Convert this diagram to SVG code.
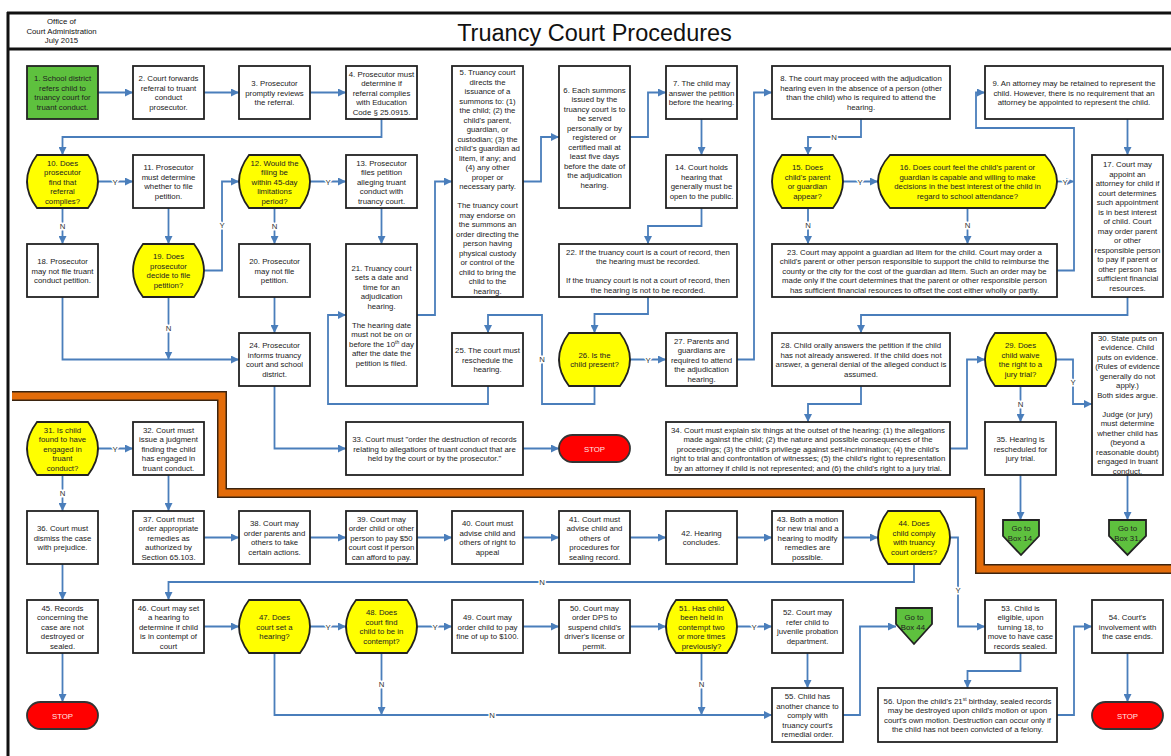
<svg xmlns="http://www.w3.org/2000/svg" width="1171" height="756" viewBox="0 0 1171 756">
<style>
.box{fill:#fff;stroke:#222;stroke-width:1.8}
.dec{fill:#ffff00;stroke:#222;stroke-width:1.8}
.grn{fill:#5ec13e;stroke:#222;stroke-width:1.8}
.stop{fill:#ff0000;stroke:#333;stroke-width:1.8}
.t{font-family:"Liberation Sans",Arial,sans-serif;font-size:7.8px;fill:#222;text-anchor:middle}
.st{fill:#ffe4e4}
.c{fill:none;stroke:#4a7ebb;stroke-width:1.8;marker-end:url(#a)}
.lbl{font-family:"Liberation Sans",Arial,sans-serif;font-size:7.8px;fill:#333;text-anchor:middle;stroke:#fff;stroke-width:3;paint-order:stroke}
.frame{stroke:#111;stroke-width:3;fill:none}
</style>
<defs>
<marker id="a" viewBox="0 0 10 10" refX="10" refY="5" markerWidth="8" markerHeight="8" markerUnits="userSpaceOnUse" orient="auto"><path d="M0,0 L10,5 L0,10 z" fill="#4a7ebb"/></marker>
</defs>
<rect width="1171" height="756" fill="#fff"/>
<g id="frame">
<path class="frame" d="M7,13 H1171 M8,12 V756 M7,49 H1171"/>
<text class="t" x="61.5" y="24" style="fill:#111"><tspan x="61.5">Office of</tspan><tspan x="61.5" dy="9.5">Court Administration</tspan><tspan x="61.5" dy="9.5">July 2015</tspan></text>
<text x="594.5" y="41" style="font-family:'Liberation Sans',Arial,sans-serif;font-size:23.5px;fill:#111;text-anchor:middle">Truancy Court Procedures</text>
</g>
<g id="band">
<path d="M12,396 H222 V493 H980 V569 H1171" fill="none" stroke="#3b2410" stroke-width="10"/>
<path d="M12,396 H222 V493 H980 V569 H1171" fill="none" stroke="#e36c0a" stroke-width="7"/>
</g>
<g id="connectors">
<path class="c" d="M98,92.5 H133"/>
<path class="c" d="M204,92.5 H239"/>
<path class="c" d="M310,92.5 H346"/>
<path class="c" d="M381.5,119 V137 H62.5 V155"/>
<path class="c" d="M98,181.5 H133"/>
<path class="c" d="M62.5,208 V244"/>
<path class="c" d="M168.5,208 V244"/>
<path class="c" d="M204,270.5 H222 V181.5 H239"/>
<path class="c" d="M310,181.5 H346"/>
<path class="c" d="M274.5,208 V244"/>
<path class="c" d="M381.5,208 V244"/>
<path class="c" d="M62.5,297 V359.5 H239"/>
<path class="c" d="M168.5,297 V359.5"/>
<path class="c" d="M274.5,297 V333"/>
<path class="c" d="M417,315 H435 V181.5 H452"/>
<path class="c" d="M274.5,386 V448.5 H346"/>
<path class="c" d="M488,386 V404 H328 V315 H346"/>
<path class="c" d="M594.5,386 V404 H542 V315 H488 V333"/>
<path class="c" d="M630,359.5 H666"/>
<path class="c" d="M737,359.5 H754 V92.5 H772"/>
<path class="c" d="M523,181.5 H541 V137 H559"/>
<path class="c" d="M630,137 H648 V92.5 H666"/>
<path class="c" d="M701.5,119 V155"/>
<path class="c" d="M701.5,208 V226 H648 V244"/>
<path class="c" d="M648,297 V314 H594.5 V333"/>
<path class="c" d="M861,119 V137 H808 V155"/>
<path class="c" d="M843,181.5 H878"/>
<path class="c" d="M808,208 V244"/>
<path class="c" d="M967.5,208 V244"/>
<path class="c" d="M1057,270.5 H1074 V128 H976 V92.5 H985"/>
<path class="c" d="M1057,181.5 H1074"/>
<path class="c" d="M1127.5,119 V155"/>
<path class="c" d="M1127.5,297 V315 H861 V333"/>
<path class="c" d="M861,386 V404 H808 V422"/>
<path class="c" d="M950,448.5 H967 V359.5 H985"/>
<path class="c" d="M1056,359.5 H1073 V404 H1092"/>
<path class="c" d="M1020.5,386 V422"/>
<path class="c" d="M1020.5,475 V520"/>
<path class="c" d="M1127.5,475 V520"/>
<path class="c" d="M523,448.5 H559"/>
<path class="c" d="M98,448.5 H133"/>
<path class="c" d="M62.5,475 V511"/>
<path class="c" d="M168.5,475 V511"/>
<path class="c" d="M62.5,564 V600"/>
<path class="c" d="M62.5,653 V702"/>
<path class="c" d="M204,537.5 H239"/>
<path class="c" d="M310,537.5 H346"/>
<path class="c" d="M417,537.5 H452"/>
<path class="c" d="M523,537.5 H559"/>
<path class="c" d="M630,537.5 H666"/>
<path class="c" d="M737,537.5 H772"/>
<path class="c" d="M843,537.5 H878"/>
<path class="c" d="M914,564 V582 H168.5 V600"/>
<path class="c" d="M950,537.5 H958 V626.5 H985"/>
<path class="c" d="M204,626.5 H239"/>
<path class="c" d="M310,626.5 H346"/>
<path class="c" d="M417,626.5 H452"/>
<path class="c" d="M523,626.5 H559"/>
<path class="c" d="M630,626.5 H666"/>
<path class="c" d="M737,626.5 H772"/>
<path class="c" d="M807.5,653 V688"/>
<path class="c" d="M274.5,653 V715 H772"/>
<path class="c" d="M381.5,653 V715"/>
<path class="c" d="M701.5,653 V715"/>
<path class="c" d="M843,715 H860 V626.5 H896"/>
<path class="c" d="M1020.5,653 V671 H967.5 V688"/>
<path class="c" d="M1057,715 H1074 V626.5 H1092"/>
<path class="c" d="M1127.5,653 V702"/>
<text class="lbl" x="115" y="184.5">Y</text>
<text class="lbl" x="62.5" y="229">N</text>
<text class="lbl" x="222" y="228">Y</text>
<text class="lbl" x="328" y="184.5">Y</text>
<text class="lbl" x="274.5" y="229">N</text>
<text class="lbl" x="168.5" y="331">N</text>
<text class="lbl" x="542" y="362">N</text>
<text class="lbl" x="648" y="362.5">Y</text>
<text class="lbl" x="834" y="140">N</text>
<text class="lbl" x="860" y="184.5">Y</text>
<text class="lbl" x="808" y="228">N</text>
<text class="lbl" x="967.5" y="228">N</text>
<text class="lbl" x="1065" y="184.5">Y</text>
<text class="lbl" x="1073" y="385">Y</text>
<text class="lbl" x="1020.5" y="407">N</text>
<text class="lbl" x="115" y="451.5">Y</text>
<text class="lbl" x="62.5" y="496">N</text>
<text class="lbl" x="542" y="585">N</text>
<text class="lbl" x="958" y="593">Y</text>
<text class="lbl" x="328" y="629.5">Y</text>
<text class="lbl" x="435" y="629.5">Y</text>
<text class="lbl" x="754" y="629.5">Y</text>
<text class="lbl" x="492" y="718">N</text>
<text class="lbl" x="381.5" y="687">N</text>
<text class="lbl" x="701.5" y="687">N</text>
</g>
<g id="n1"><rect class="grn" x="27" y="66" width="71" height="53"/><text class="t" x="62.5" y="81.25"><tspan x="62.5">1. School district</tspan><tspan x="62.5" dy="9.5">refers child to</tspan><tspan x="62.5" dy="9.5">truancy court for</tspan><tspan x="62.5" dy="9.5">truant conduct.</tspan></text></g>
<g id="n2"><rect class="box" x="133" y="66" width="71" height="53"/><text class="t" x="168.5" y="81.25"><tspan x="168.5">2. Court forwards</tspan><tspan x="168.5" dy="9.5">referral to truant</tspan><tspan x="168.5" dy="9.5">conduct</tspan><tspan x="168.5" dy="9.5">prosecutor.</tspan></text></g>
<g id="n3"><rect class="box" x="239" y="66" width="71" height="53"/><text class="t" x="274.5" y="86"><tspan x="274.5">3. Prosecutor</tspan><tspan x="274.5" dy="9.5">promptly reviews</tspan><tspan x="274.5" dy="9.5">the referral.</tspan></text></g>
<g id="n4"><rect class="box" x="346" y="66" width="71" height="53"/><text class="t" x="381.5" y="76.5"><tspan x="381.5">4. Prosecutor must</tspan><tspan x="381.5" dy="9.5">determine if</tspan><tspan x="381.5" dy="9.5">referral complies</tspan><tspan x="381.5" dy="9.5">with Education</tspan><tspan x="381.5" dy="9.5">Code § 25.0915.</tspan></text></g>
<g id="n5"><rect class="box" x="452" y="66" width="71" height="231"/><text class="t" x="487.5" y="75"><tspan x="487.5">5. Truancy court</tspan><tspan x="487.5" dy="9.52">directs the</tspan><tspan x="487.5" dy="9.52">issuance of a</tspan><tspan x="487.5" dy="9.52">summons to: (1)</tspan><tspan x="487.5" dy="9.52">the child; (2) the</tspan><tspan x="487.5" dy="9.52">child's parent,</tspan><tspan x="487.5" dy="9.52">guardian, or</tspan><tspan x="487.5" dy="9.52">custodian; (3) the</tspan><tspan x="487.5" dy="9.52">child's guardian ad</tspan><tspan x="487.5" dy="9.52">litem, if any; and</tspan><tspan x="487.5" dy="9.52">(4) any other</tspan><tspan x="487.5" dy="9.52">proper or</tspan><tspan x="487.5" dy="9.52">necessary party.</tspan><tspan x="487.5" dy="19.04">The truancy court</tspan><tspan x="487.5" dy="9.52">may endorse on</tspan><tspan x="487.5" dy="9.52">the summons an</tspan><tspan x="487.5" dy="9.52">order directing the</tspan><tspan x="487.5" dy="9.52">person having</tspan><tspan x="487.5" dy="9.52">physical custody</tspan><tspan x="487.5" dy="9.52">or control of the</tspan><tspan x="487.5" dy="9.52">child to bring the</tspan><tspan x="487.5" dy="9.52">child to the</tspan><tspan x="487.5" dy="9.52">hearing.</tspan></text></g>
<g id="n6"><rect class="box" x="559" y="66" width="71" height="142"/><text class="t" x="594.5" y="92.5"><tspan x="594.5">6. Each summons</tspan><tspan x="594.5" dy="9.5">issued by the</tspan><tspan x="594.5" dy="9.5">truancy court is to</tspan><tspan x="594.5" dy="9.5">be served</tspan><tspan x="594.5" dy="9.5">personally or by</tspan><tspan x="594.5" dy="9.5">registered or</tspan><tspan x="594.5" dy="9.5">certified mail at</tspan><tspan x="594.5" dy="9.5">least five days</tspan><tspan x="594.5" dy="9.5">before the date of</tspan><tspan x="594.5" dy="9.5">the adjudication</tspan><tspan x="594.5" dy="9.5">hearing.</tspan></text></g>
<g id="n7"><rect class="box" x="666" y="66" width="71" height="53"/><text class="t" x="701.5" y="86"><tspan x="701.5">7. The child may</tspan><tspan x="701.5" dy="9.5">answer the petition</tspan><tspan x="701.5" dy="9.5">before the hearing.</tspan></text></g>
<g id="n8"><rect class="box" x="772" y="66" width="178" height="53"/><text class="t" x="861" y="81.25"><tspan x="861">8. The court may proceed with the adjudication</tspan><tspan x="861" dy="9.5">hearing even in the absence of a person (other</tspan><tspan x="861" dy="9.5">than the child) who is required to attend the</tspan><tspan x="861" dy="9.5">hearing.</tspan></text></g>
<g id="n9"><rect class="box" x="985" y="66" width="178" height="53"/><text class="t" x="1074" y="86"><tspan x="1074">9. An attorney may be retained to represent the</tspan><tspan x="1074" dy="9.5">child.  However, there is no requirement that an</tspan><tspan x="1074" dy="9.5">attorney be appointed to represent the child.</tspan></text></g>
<g id="n10"><path class="dec" d="M37,155 H88 Q108,181.5 88,208 H37 Q17,181.5 37,155 Z"/><text class="t" x="62.5" y="165.5"><tspan x="62.5">10. Does</tspan><tspan x="62.5" dy="9.5">prosecutor</tspan><tspan x="62.5" dy="9.5">find that</tspan><tspan x="62.5" dy="9.5">referral</tspan><tspan x="62.5" dy="9.5">complies?</tspan></text></g>
<g id="n11"><rect class="box" x="133" y="155" width="71" height="53"/><text class="t" x="168.5" y="170.25"><tspan x="168.5">11. Prosecutor</tspan><tspan x="168.5" dy="9.5">must determine</tspan><tspan x="168.5" dy="9.5">whether to file</tspan><tspan x="168.5" dy="9.5">petition.</tspan></text></g>
<g id="n12"><path class="dec" d="M249,155 H300 Q320,181.5 300,208 H249 Q229,181.5 249,155 Z"/><text class="t" x="274.5" y="165.5"><tspan x="274.5">12. Would the</tspan><tspan x="274.5" dy="9.5">filing be</tspan><tspan x="274.5" dy="9.5">within 45-day</tspan><tspan x="274.5" dy="9.5">limitations</tspan><tspan x="274.5" dy="9.5">period?</tspan></text></g>
<g id="n13"><rect class="box" x="346" y="155" width="71" height="53"/><text class="t" x="381.5" y="165.5"><tspan x="381.5">13. Prosecutor</tspan><tspan x="381.5" dy="9.5">files petition</tspan><tspan x="381.5" dy="9.5">alleging truant</tspan><tspan x="381.5" dy="9.5">conduct with</tspan><tspan x="381.5" dy="9.5">truancy court.</tspan></text></g>
<g id="n14"><rect class="box" x="666" y="155" width="71" height="53"/><text class="t" x="701.5" y="170.25"><tspan x="701.5">14. Court holds</tspan><tspan x="701.5" dy="9.5">hearing that</tspan><tspan x="701.5" dy="9.5">generally must be</tspan><tspan x="701.5" dy="9.5">open to the public.</tspan></text></g>
<g id="n15"><path class="dec" d="M782,155 H833 Q853,181.5 833,208 H782 Q762,181.5 782,155 Z"/><text class="t" x="807.5" y="170.25"><tspan x="807.5">15.  Does</tspan><tspan x="807.5" dy="9.5">child's parent</tspan><tspan x="807.5" dy="9.5">or guardian</tspan><tspan x="807.5" dy="9.5">appear?</tspan></text></g>
<g id="n16"><path class="dec" d="M890,155 H1045 Q1069,181.5 1045,208 H890 Q866,181.5 890,155 Z"/><text class="t" x="967.5" y="170.25"><tspan x="967.5">16. Does court feel the child's parent or</tspan><tspan x="967.5" dy="9.5">guardian is capable and willing to make</tspan><tspan x="967.5" dy="9.5">decisions in the best interest of the child in</tspan><tspan x="967.5" dy="9.5">regard to school attendance?</tspan></text></g>
<g id="n17"><rect class="box" x="1092" y="155" width="71" height="142"/><text class="t" x="1127.5" y="167.25"><tspan x="1127.5">17. Court may</tspan><tspan x="1127.5" dy="9.5">appoint an</tspan><tspan x="1127.5" dy="9.5">attorney for child if</tspan><tspan x="1127.5" dy="9.5">court determines</tspan><tspan x="1127.5" dy="9.5">such appointment</tspan><tspan x="1127.5" dy="9.5">is in best interest</tspan><tspan x="1127.5" dy="9.5">of child.  Court</tspan><tspan x="1127.5" dy="9.5">may order parent</tspan><tspan x="1127.5" dy="9.5">or other</tspan><tspan x="1127.5" dy="9.5">responsible person</tspan><tspan x="1127.5" dy="9.5">to pay if parent or</tspan><tspan x="1127.5" dy="9.5">other person has</tspan><tspan x="1127.5" dy="9.5">sufficient financial</tspan><tspan x="1127.5" dy="9.5">resources.</tspan></text></g>
<g id="n18"><rect class="box" x="27" y="244" width="71" height="53"/><text class="t" x="62.5" y="264"><tspan x="62.5">18. Prosecutor</tspan><tspan x="62.5" dy="9.5">may not file truant</tspan><tspan x="62.5" dy="9.5">conduct petition.</tspan></text></g>
<g id="n19"><path class="dec" d="M143,244 H194 Q214,270.5 194,297 H143 Q123,270.5 143,244 Z"/><text class="t" x="168.5" y="259.25"><tspan x="168.5">19. Does</tspan><tspan x="168.5" dy="9.5">prosecutor</tspan><tspan x="168.5" dy="9.5">decide to file</tspan><tspan x="168.5" dy="9.5">petition?</tspan></text></g>
<g id="n20"><rect class="box" x="239" y="244" width="71" height="53"/><text class="t" x="274.5" y="264"><tspan x="274.5">20. Prosecutor</tspan><tspan x="274.5" dy="9.5">may not file</tspan><tspan x="274.5" dy="9.5">petition.</tspan></text></g>
<g id="n21"><rect class="box" x="346" y="244" width="71" height="142"/><text class="t" x="381.5" y="270.5"><tspan x="381.5">21. Truancy court</tspan><tspan x="381.5" dy="9.5">sets a date and</tspan><tspan x="381.5" dy="9.5">time for an</tspan><tspan x="381.5" dy="9.5">adjudication</tspan><tspan x="381.5" dy="9.5">hearing.</tspan><tspan x="381.5" dy="19">The hearing date</tspan><tspan x="381.5" dy="9.5">must not be on or</tspan><tspan x="381.5" dy="9.5">before the 10<tspan dy="-3" style="font-size:5px">th</tspan><tspan dy="3"> day</tspan></tspan><tspan x="381.5" dy="9.5">after the date the</tspan><tspan x="381.5" dy="9.5">petition is filed.</tspan></text></g>
<g id="n22"><rect class="box" x="559" y="244" width="178" height="53"/><text class="t" x="648" y="254.5"><tspan x="648">22. If the truancy court is a court of record, then</tspan><tspan x="648" dy="9.5">the hearing must be recorded.</tspan><tspan x="648" dy="19">If the truancy court is not a court of record, then</tspan><tspan x="648" dy="9.5">the hearing is not to be recorded.</tspan></text></g>
<g id="n23"><rect class="box" x="772" y="244" width="285" height="53"/><text class="t" x="914.5" y="254.5"><tspan x="914.5">23. Court may appoint a guardian ad litem for the child.  Court may order a</tspan><tspan x="914.5" dy="9.5">child's parent or other person responsible to support the child to reimburse the</tspan><tspan x="914.5" dy="9.5">county or the city for the cost of the guardian ad litem.  Such an order may be</tspan><tspan x="914.5" dy="9.5">made only if the court determines that the parent or other responsible person</tspan><tspan x="914.5" dy="9.5">has sufficient financial resources to offset the cost either wholly or partly.</tspan></text></g>
<g id="n24"><rect class="box" x="239" y="333" width="71" height="53"/><text class="t" x="274.5" y="348.25"><tspan x="274.5">24. Prosecutor</tspan><tspan x="274.5" dy="9.5">informs truancy</tspan><tspan x="274.5" dy="9.5">court and school</tspan><tspan x="274.5" dy="9.5">district.</tspan></text></g>
<g id="n25"><rect class="box" x="452" y="333" width="71" height="53"/><text class="t" x="487.5" y="353"><tspan x="487.5">25. The court must</tspan><tspan x="487.5" dy="9.5">reschedule the</tspan><tspan x="487.5" dy="9.5">hearing.</tspan></text></g>
<g id="n26"><path class="dec" d="M569,333 H620 Q640,359.5 620,386 H569 Q549,359.5 569,333 Z"/><text class="t" x="594.5" y="357.75"><tspan x="594.5">26. Is the</tspan><tspan x="594.5" dy="9.5">child present?</tspan></text></g>
<g id="n27"><rect class="box" x="666" y="333" width="71" height="53"/><text class="t" x="701.5" y="343.5"><tspan x="701.5">27. Parents and</tspan><tspan x="701.5" dy="9.5">guardians are</tspan><tspan x="701.5" dy="9.5">required to attend</tspan><tspan x="701.5" dy="9.5">the adjudication</tspan><tspan x="701.5" dy="9.5">hearing.</tspan></text></g>
<g id="n28"><rect class="box" x="772" y="333" width="178" height="53"/><text class="t" x="861" y="348.25"><tspan x="861">28. Child orally answers the petition if the child</tspan><tspan x="861" dy="9.5">has not already answered.  If the child does not</tspan><tspan x="861" dy="9.5">answer, a general denial of the alleged conduct is</tspan><tspan x="861" dy="9.5">assumed.</tspan></text></g>
<g id="n29"><path class="dec" d="M995,333 H1046 Q1066,359.5 1046,386 H995 Q975,359.5 995,333 Z"/><text class="t" x="1020.5" y="348.25"><tspan x="1020.5">29. Does</tspan><tspan x="1020.5" dy="9.5">child waive</tspan><tspan x="1020.5" dy="9.5">the right to a</tspan><tspan x="1020.5" dy="9.5">jury trial?</tspan></text></g>
<g id="n30"><rect class="box" x="1092" y="333" width="71" height="142"/><text class="t" x="1127.5" y="340.5"><tspan x="1127.5">30. State puts on</tspan><tspan x="1127.5" dy="9.5">evidence.  Child</tspan><tspan x="1127.5" dy="9.5">puts on evidence.</tspan><tspan x="1127.5" dy="9.5">(Rules of evidence</tspan><tspan x="1127.5" dy="9.5">generally do not</tspan><tspan x="1127.5" dy="9.5">apply.)</tspan><tspan x="1127.5" dy="9.5">Both sides argue.</tspan><tspan x="1127.5" dy="19">Judge (or jury)</tspan><tspan x="1127.5" dy="9.5">must determine</tspan><tspan x="1127.5" dy="9.5">whether child has</tspan><tspan x="1127.5" dy="9.5">(beyond a</tspan><tspan x="1127.5" dy="9.5">reasonable doubt)</tspan><tspan x="1127.5" dy="9.5">engaged in truant</tspan><tspan x="1127.5" dy="9.5">conduct.</tspan></text></g>
<g id="n31"><path class="dec" d="M37,422 H88 Q108,448.5 88,475 H37 Q17,448.5 37,422 Z"/><text class="t" x="62.5" y="432.5"><tspan x="62.5">31. Is child</tspan><tspan x="62.5" dy="9.5">found to have</tspan><tspan x="62.5" dy="9.5">engaged in</tspan><tspan x="62.5" dy="9.5">truant</tspan><tspan x="62.5" dy="9.5">conduct?</tspan></text></g>
<g id="n32"><rect class="box" x="133" y="422" width="71" height="53"/><text class="t" x="168.5" y="432.5"><tspan x="168.5">32. Court must</tspan><tspan x="168.5" dy="9.5">issue a judgment</tspan><tspan x="168.5" dy="9.5">finding the child</tspan><tspan x="168.5" dy="9.5">has engaged in</tspan><tspan x="168.5" dy="9.5">truant conduct.</tspan></text></g>
<g id="n33"><rect class="box" x="346" y="422" width="177" height="53"/><text class="t" x="434.5" y="442"><tspan x="434.5">33. Court must "order the destruction of  records</tspan><tspan x="434.5" dy="9.5">relating to allegations of truant conduct that are</tspan><tspan x="434.5" dy="9.5">held by the court or by the prosecutor."</tspan></text></g>
<g id="stop1"><rect class="stop" x="559" y="435" width="71" height="27" rx="13.5"/><text class="t st" x="594.5" y="451.5">STOP</text></g>
<g id="n34"><rect class="box" x="666" y="422" width="284" height="53"/><text class="t" x="808" y="432.5"><tspan x="808">34. Court must explain six things at the outset of the hearing: (1) the allegations</tspan><tspan x="808" dy="9.5">made against the child; (2) the nature and possible consequences of the</tspan><tspan x="808" dy="9.5">proceedings; (3) the child's privilege against self-incrimination; (4) the child's</tspan><tspan x="808" dy="9.5">right to trial and confrontation of witnesses; (5) the child's right to representation</tspan><tspan x="808" dy="9.5">by an attorney if child is not represented; and (6) the child's right to a jury trial.</tspan></text></g>
<g id="n35"><rect class="box" x="985" y="422" width="71" height="53"/><text class="t" x="1020.5" y="442"><tspan x="1020.5">35. Hearing is</tspan><tspan x="1020.5" dy="9.5">rescheduled for</tspan><tspan x="1020.5" dy="9.5">jury trial.</tspan></text></g>
<g id="goto14"><path class="grn" d="M1003,520 H1039 V536 L1021,555 L1003,536 Z"/><text class="t" x="1021" y="531"><tspan x="1021">Go to</tspan><tspan x="1021" dy="10">Box 14.</tspan></text></g>
<g id="goto31"><path class="grn" d="M1109,520 H1146 V536 L1127.5,555 L1109,536 Z"/><text class="t" x="1127.5" y="531"><tspan x="1127.5">Go to</tspan><tspan x="1127.5" dy="10">Box 31.</tspan></text></g>
<g id="n36"><rect class="box" x="27" y="511" width="71" height="53"/><text class="t" x="62.5" y="531"><tspan x="62.5">36. Court must</tspan><tspan x="62.5" dy="9.5">dismiss the case</tspan><tspan x="62.5" dy="9.5">with prejudice.</tspan></text></g>
<g id="n37"><rect class="box" x="133" y="511" width="71" height="53"/><text class="t" x="168.5" y="521.5"><tspan x="168.5">37. Court must</tspan><tspan x="168.5" dy="9.5">order appropriate</tspan><tspan x="168.5" dy="9.5">remedies as</tspan><tspan x="168.5" dy="9.5">authorized by</tspan><tspan x="168.5" dy="9.5">Section 65.103.</tspan></text></g>
<g id="n38"><rect class="box" x="239" y="511" width="71" height="53"/><text class="t" x="274.5" y="526.25"><tspan x="274.5">38. Court may</tspan><tspan x="274.5" dy="9.5">order parents and</tspan><tspan x="274.5" dy="9.5">others to take</tspan><tspan x="274.5" dy="9.5">certain actions.</tspan></text></g>
<g id="n39"><rect class="box" x="346" y="511" width="71" height="53"/><text class="t" x="381.5" y="521.5"><tspan x="381.5">39. Court may</tspan><tspan x="381.5" dy="9.5">order child or other</tspan><tspan x="381.5" dy="9.5">person to pay $50</tspan><tspan x="381.5" dy="9.5">court cost if person</tspan><tspan x="381.5" dy="9.5">can afford to pay.</tspan></text></g>
<g id="n40"><rect class="box" x="452" y="511" width="71" height="53"/><text class="t" x="487.5" y="526.25"><tspan x="487.5">40. Court must</tspan><tspan x="487.5" dy="9.5">advise child and</tspan><tspan x="487.5" dy="9.5">others of right to</tspan><tspan x="487.5" dy="9.5">appeal</tspan></text></g>
<g id="n41"><rect class="box" x="559" y="511" width="71" height="53"/><text class="t" x="594.5" y="521.5"><tspan x="594.5">41. Court must</tspan><tspan x="594.5" dy="9.5">advise child and</tspan><tspan x="594.5" dy="9.5">others of</tspan><tspan x="594.5" dy="9.5">procedures for</tspan><tspan x="594.5" dy="9.5">sealing record.</tspan></text></g>
<g id="n42"><rect class="box" x="666" y="511" width="71" height="53"/><text class="t" x="701.5" y="535.75"><tspan x="701.5">42. Hearing</tspan><tspan x="701.5" dy="9.5">concludes.</tspan></text></g>
<g id="n43"><rect class="box" x="772" y="511" width="71" height="53"/><text class="t" x="807.5" y="521.5"><tspan x="807.5">43. Both a motion</tspan><tspan x="807.5" dy="9.5">for new trial and a</tspan><tspan x="807.5" dy="9.5">hearing to modify</tspan><tspan x="807.5" dy="9.5">remedies are</tspan><tspan x="807.5" dy="9.5">possible.</tspan></text></g>
<g id="n44"><path class="dec" d="M888,511 H940 Q960,537.5 940,564 H888 Q868,537.5 888,511 Z"/><text class="t" x="914" y="526.25"><tspan x="914">44. Does</tspan><tspan x="914" dy="9.5">child comply</tspan><tspan x="914" dy="9.5">with truancy</tspan><tspan x="914" dy="9.5">court orders?</tspan></text></g>
<g id="n45"><rect class="box" x="27" y="600" width="71" height="53"/><text class="t" x="62.5" y="610.5"><tspan x="62.5">45. Records</tspan><tspan x="62.5" dy="9.5">concerning the</tspan><tspan x="62.5" dy="9.5">case are not</tspan><tspan x="62.5" dy="9.5">destroyed or</tspan><tspan x="62.5" dy="9.5">sealed.</tspan></text></g>
<g id="n46"><rect class="box" x="133" y="600" width="71" height="53"/><text class="t" x="168.5" y="610.5"><tspan x="168.5">46. Court may set</tspan><tspan x="168.5" dy="9.5">a hearing to</tspan><tspan x="168.5" dy="9.5">determine if child</tspan><tspan x="168.5" dy="9.5">is in contempt of</tspan><tspan x="168.5" dy="9.5">court</tspan></text></g>
<g id="n47"><path class="dec" d="M249,600 H300 Q320,626.5 300,653 H249 Q229,626.5 249,600 Z"/><text class="t" x="274.5" y="620"><tspan x="274.5">47. Does</tspan><tspan x="274.5" dy="9.5">court set a</tspan><tspan x="274.5" dy="9.5">hearing?</tspan></text></g>
<g id="n48"><path class="dec" d="M356,600 H407 Q427,626.5 407,653 H356 Q336,626.5 356,600 Z"/><text class="t" x="381.5" y="615.25"><tspan x="381.5">48. Does</tspan><tspan x="381.5" dy="9.5">court find</tspan><tspan x="381.5" dy="9.5">child to be in</tspan><tspan x="381.5" dy="9.5">contempt?</tspan></text></g>
<g id="n49"><rect class="box" x="452" y="600" width="71" height="53"/><text class="t" x="487.5" y="620"><tspan x="487.5">49. Court may</tspan><tspan x="487.5" dy="9.5">order child to pay</tspan><tspan x="487.5" dy="9.5">fine of up to $100.</tspan></text></g>
<g id="n50"><rect class="box" x="559" y="600" width="71" height="53"/><text class="t" x="594.5" y="610.5"><tspan x="594.5">50. Court may</tspan><tspan x="594.5" dy="9.5">order DPS to</tspan><tspan x="594.5" dy="9.5">suspend child's</tspan><tspan x="594.5" dy="9.5">driver's license or</tspan><tspan x="594.5" dy="9.5">permit.</tspan></text></g>
<g id="n51"><path class="dec" d="M676,600 H727 Q747,626.5 727,653 H676 Q656,626.5 676,600 Z"/><text class="t" x="701.5" y="610.5"><tspan x="701.5">51. Has child</tspan><tspan x="701.5" dy="9.5">been held in</tspan><tspan x="701.5" dy="9.5">contempt two</tspan><tspan x="701.5" dy="9.5">or more times</tspan><tspan x="701.5" dy="9.5">previously?</tspan></text></g>
<g id="n52"><rect class="box" x="772" y="600" width="71" height="53"/><text class="t" x="807.5" y="615.25"><tspan x="807.5">52. Court may</tspan><tspan x="807.5" dy="9.5">refer child to</tspan><tspan x="807.5" dy="9.5">juvenile probation</tspan><tspan x="807.5" dy="9.5">department.</tspan></text></g>
<g id="goto44"><path class="grn" d="M896,608 H932 V624 L914,644 L896,624 Z"/><text class="t" x="914" y="620"><tspan x="914">Go to</tspan><tspan x="914" dy="10">Box 44.</tspan></text></g>
<g id="n53"><rect class="box" x="985" y="600" width="71" height="53"/><text class="t" x="1020.5" y="610.5"><tspan x="1020.5">53. Child is</tspan><tspan x="1020.5" dy="9.5">eligible, upon</tspan><tspan x="1020.5" dy="9.5">turning 18, to</tspan><tspan x="1020.5" dy="9.5">move to have case</tspan><tspan x="1020.5" dy="9.5">records sealed.</tspan></text></g>
<g id="n54"><rect class="box" x="1092" y="600" width="71" height="53"/><text class="t" x="1127.5" y="620"><tspan x="1127.5">54. Court's</tspan><tspan x="1127.5" dy="9.5">involvement with</tspan><tspan x="1127.5" dy="9.5">the case ends.</tspan></text></g>
<g id="stop2"><rect class="stop" x="27" y="702" width="71" height="27" rx="13.5"/><text class="t st" x="62.5" y="718.5">STOP</text></g>
<g id="n55"><rect class="box" x="772" y="688" width="71" height="54"/><text class="t" x="807.5" y="699"><tspan x="807.5">55. Child has</tspan><tspan x="807.5" dy="9.5">another chance to</tspan><tspan x="807.5" dy="9.5">comply with</tspan><tspan x="807.5" dy="9.5">truancy court's</tspan><tspan x="807.5" dy="9.5">remedial order.</tspan></text></g>
<g id="n56"><rect class="box" x="878" y="688" width="179" height="54"/><text class="t" x="967.5" y="703.75"><tspan x="967.5">56. Upon the child's 21<tspan dy="-3" style="font-size:5px">st</tspan><tspan dy="3"> birthday, sealed records</tspan></tspan><tspan x="967.5" dy="9.5">may be destroyed upon child's motion or upon</tspan><tspan x="967.5" dy="9.5">court's own motion.  Destruction can occur only if</tspan><tspan x="967.5" dy="9.5">the child has not been convicted of a felony.</tspan></text></g>
<g id="stop3"><rect class="stop" x="1092" y="702" width="71" height="27" rx="13.5"/><text class="t st" x="1127.5" y="718.5">STOP</text></g>
</svg>
